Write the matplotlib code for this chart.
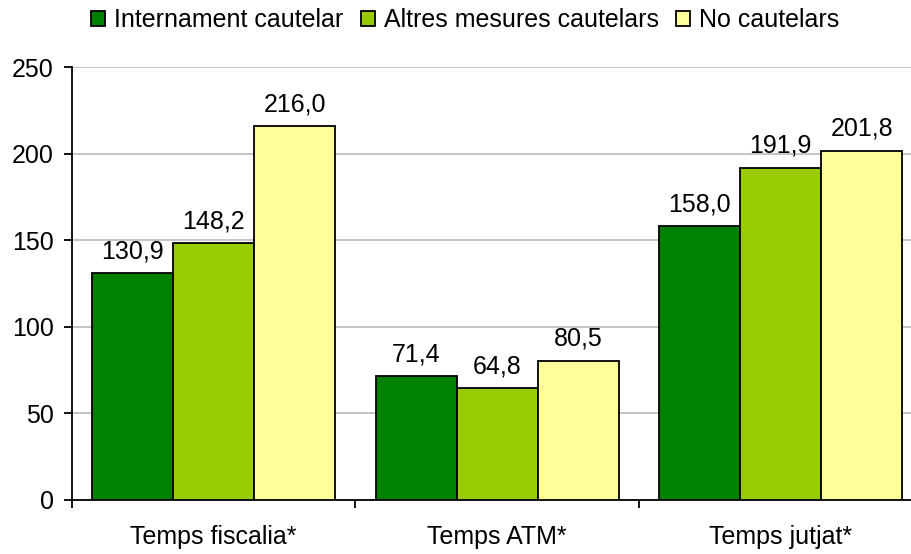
import matplotlib
matplotlib.use("Agg")
import matplotlib.pyplot as plt
import numpy as np

categories = ["Temps fiscalia*", "Temps ATM*", "Temps jutjat*"]
series_names = ["Internament cautelar", "Altres mesures cautelars", "No cautelars"]
internament = [130.9, 71.4, 158.0]
altres = [148.2, 64.8, 191.9]
no_caut = [216.0, 80.5, 201.8]
colors = ["#008000", "#99CC00", "#FFFF99"]
yticks = [0, 50, 100, 150, 200, 250]

plt.rcParams['font.family'] = ['Liberation Sans', 'DejaVu Sans']
FS = 18

fig = plt.figure(figsize=(9.12, 5.54), dpi=100)
ax = fig.add_axes([72 / 912, 0.0975, 850.5 / 912, 0.7815])

x = np.arange(len(categories))
w = 0.286
series = [internament, altres, no_caut]
handles = []
for i, (vals, c, name) in enumerate(zip(series, colors, series_names)):
    bars = ax.bar(x + (i - 1) * w, vals, width=w, color=c, edgecolor="black",
                  linewidth=1.3, label=name, zorder=3)
    handles.append(bars)
    for xi, v in zip(x + (i - 1) * w, vals):
        ax.annotate(f"{v:.1f}".replace(".", ","), xy=(xi, v), xytext=(0, 7),
                    textcoords="offset points", ha="center", va="bottom",
                    fontsize=FS, zorder=4)

ax.set_xlim(-0.5, len(categories) - 0.5)
ax.set_ylim(0, 250)
ax.set_yticks(yticks)
ax.set_yticklabels([str(t) for t in yticks], fontsize=FS)
ax.yaxis.grid(True, color="#C0C0C0", linewidth=1.3, zorder=0)
ax.set_axisbelow(True)

ax.set_xticks(np.arange(-0.5, len(categories), 1.0))
ax.set_xticklabels([])
ax.set_xticks(x, minor=True)
ax.set_xticklabels(categories, minor=True, fontsize=FS)
ax.tick_params(axis="x", which="minor", length=0, pad=18)
ax.tick_params(axis="x", which="major", length=6, width=1.3, direction="out")
ax.tick_params(axis="y", length=6, width=1.3, direction="out", pad=7)

for s in ["top", "right"]:
    ax.spines[s].set_visible(False)
for s in ["left", "bottom"]:
    ax.spines[s].set_linewidth(1.3)

fig.legend(handles=handles, labels=series_names, loc="center", bbox_to_anchor=(0.510, 0.963),
           ncol=3, frameon=False, fontsize=FS, handlelength=0.56, handleheight=0.56,
           handletextpad=0.36, columnspacing=0.68, borderaxespad=0)

fig.savefig("out.png", dpi=100)
